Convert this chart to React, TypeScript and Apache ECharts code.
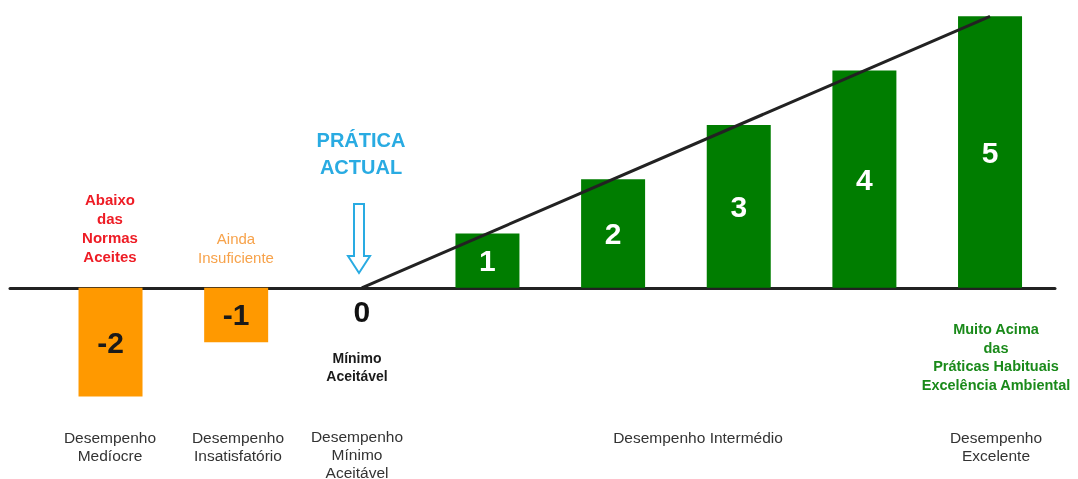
import React, { useEffect, useRef } from "react";
import * as echarts from "echarts";

const levels = [-2, -1, 0, 1, 2, 3, 4, 5];
const values = [-2, -1, 0, 1, 2, 3, 4, 5];
const valueLabels = ["-2", "-1", "0", "1", "2", "3", "4", "5"];
const trendX = [0, 5];
const trendY = [0, 5];

const SANS = "'Liberation Sans', Arial, sans-serif";

export default function App() {
  const ref = useRef<HTMLDivElement>(null);
  useEffect(() => {
    document.body.style.margin = "0";
    const chart = echarts.init(ref.current!, null, { renderer: "svg" });
    const barData = levels.map((l, i) => {
      const v = values[i];
      const neg = v < 0;
      const item: any = {
        value: [l, v],
        itemStyle: { color: neg ? "#ff9900" : "#007d00" },
        label: {
          show: true,
          formatter: valueLabels[i],
          position: "inside",
          color: neg ? "#1a1a1a" : "#ffffff",
        },
      };
      if (v === 0) {
        item.label.position = "bottom";
        item.label.distance = 9;
        item.label.color = "#111";
      }
      return item;
    });
    const txt = (text: string, x: number, y: number, color: string, size: number, weight: string, lh: number, family = SANS) => ({
      type: "text",
      x,
      y,
      z: 100,
      style: {
        text,
        fill: color,
        font: `${weight} ${size}px ${family}`,
        lineHeight: lh,
        textAlign: "center",
        textVerticalAlign: "middle",
      },
    });
    chart.setOption({
      animation: false,
      grid: { left: 10, right: 23, top: 0, bottom: 0 },
      xAxis: {
        type: "value",
        min: -2.8,
        max: 5.517,
        axisLine: { show: true, onZero: true, lineStyle: { color: "#222", width: 3 } },
        axisTick: { show: false },
        axisLabel: { show: false },
        splitLine: { show: false },
      },
      yAxis: {
        type: "value",
        min: -3.52,
        max: 5.3,
        show: false,
        splitLine: { show: false },
      },
      series: [
        {
          type: "bar",
          barWidth: 64,
          data: barData,
          label: {
            fontFamily: SANS,
            fontWeight: "bold",
            fontSize: 30,
          },
          z: 2,
        },
        {
          type: "line",
          data: trendX.map((x, i) => [x, trendY[i]]),
          symbol: "none",
          lineStyle: { color: "#222", width: 3 },
          z: 5,
        },
      ],
      graphic: [
        txt("Abaixo\ndas\nNormas\nAceites", 110, 228, "#ee1c25", 15, "bold", 19),
        txt("Ainda\nInsuficiente", 236, 248, "#f7a24a", 15, "normal", 19),
        txt("PRÁTICA\nACTUAL", 361, 153, "#29abe2", 20, "bold", 27),
        txt("Mínimo\nAceitável", 357, 367, "#1a1a1a", 14, "bold", 18),
        txt("Muito Acima\ndas\nPráticas Habituais\nExcelência Ambiental", 996, 357, "#1a8a1a", 14.5, "bold", 18.7),
        txt("Desempenho\nMedíocre", 110, 446, "#333", 15.5, "normal", 18),
        txt("Desempenho\nInsatisfatório", 238, 446, "#333", 15.5, "normal", 18),
        txt("Desempenho\nMínimo\nAceitável", 357, 454, "#333", 15.5, "normal", 18),
        txt("Desempenho Intermédio", 698, 437, "#333", 15.5, "normal", 18),
        txt("Desempenho\nExcelente", 996, 446, "#333", 15.5, "normal", 18),
        {
          type: "polygon",
          z: 100,
          shape: {
            points: [
              [354, 204], [364, 204], [364, 256], [370, 256], [359, 273], [348, 256], [354, 256],
            ],
          },
          style: { fill: "#ffffff", stroke: "#29abe2", lineWidth: 2 },
        },
      ],
    });
    return () => chart.dispose();
  }, []);
  return <div ref={ref} style={{ position: "fixed", left: 0, top: 0, width: 1078, height: 479 }} />;
}
